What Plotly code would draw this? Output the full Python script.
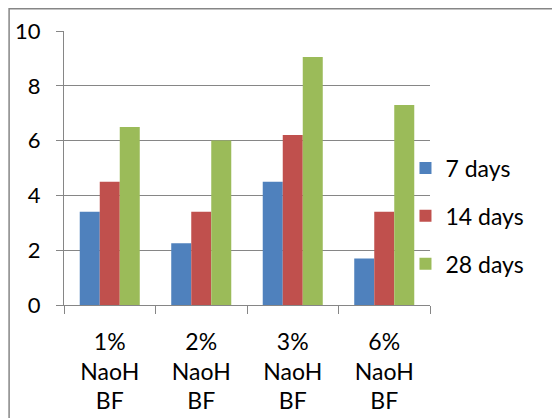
import plotly.graph_objects as go

categories = ["1%<br>NaoH<br>BF", "2%<br>NaoH<br>BF", "3%<br>NaoH<br>BF", "6%<br>NaoH<br>BF"]
series_names = ["7 days", "14 days", "28 days"]
days7 = [3.4, 2.25, 4.5, 1.7]
days14 = [4.5, 3.4, 6.2, 3.4]
days28 = [6.5, 6.0, 9.05, 7.3]
colors = ["#4F81BD", "#C0504D", "#9BBB59"]
y_ticks = [0, 2, 4, 6, 8, 10]

FONT = "Lato, 'Liberation Sans', sans-serif"
GRID = "#868686"

fig = go.Figure()
for name, vals, col in zip(series_names, [days7, days14, days28], colors):
    fig.add_trace(go.Bar(
        x=categories, y=vals, name=name, legendgroup=name,
        marker=dict(color=col, line=dict(width=0)),
    ))

fig.update_layout(
    width=552, height=418,
    margin=dict(l=64, r=122, t=31, b=113, autoexpand=False),
    paper_bgcolor="white", plot_bgcolor="white",
    barmode="group", bargap=0.344, bargroupgap=0,
    font=dict(family=FONT, size=22, color="#000000"),
    showlegend=True,
    legend=dict(
        x=0.933, xanchor="left", y=0.325, yanchor="middle",
        font=dict(family=FONT, size=23, color="#000000"),
        tracegroupgap=15, traceorder="grouped",
        itemwidth=30, bgcolor="rgba(0,0,0,0)",
    ),
    xaxis=dict(
        showline=True, linecolor=GRID, linewidth=1,
        ticks="outside", tickson="boundaries", ticklen=8, tickcolor=GRID,
        showgrid=False, tickfont=dict(size=23), ticklabelstandoff=16,
        automargin=False,
    ),
    yaxis=dict(
        range=[0, 10], tickvals=y_ticks, showline=True, linecolor=GRID, linewidth=1,
        ticks="outside", ticklen=7, tickcolor=GRID,
        showgrid=True, gridcolor=GRID, gridwidth=1,
        zeroline=False, tickfont=dict(size=22), ticklabelstandoff=11,
        automargin=False,
    ),
    shapes=[dict(
        type="rect", xref="paper", yref="paper",
        x0=-0.150, x1=1.5, y0=-0.6, y1=1.0815,
        line=dict(color=GRID, width=1.5), fillcolor="rgba(0,0,0,0)", layer="below",
    )],
)

fig.write_html("out.html")
